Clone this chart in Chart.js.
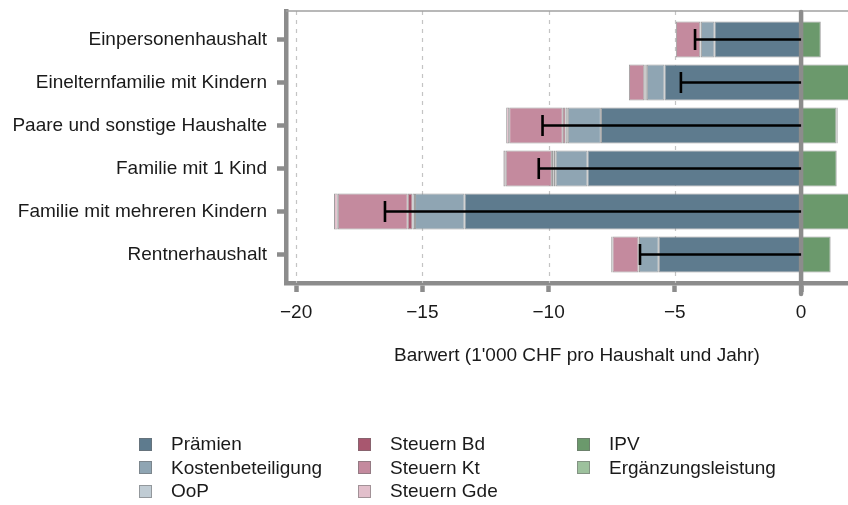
<!DOCTYPE html>
<html><head><meta charset="utf-8">
<script src="https://cdn.jsdelivr.net/npm/chart.js@4"></script>
<style>
html,body{margin:0;padding:0;background:#fff;overflow:hidden;width:848px;height:505px;}
#wrap{position:relative;width:868px;height:505px;}
canvas{position:absolute;left:0;top:0;}
.lg{position:absolute;display:flex;align-items:center;font-family:'Liberation Sans',Arial,sans-serif;font-size:19px;color:#1a1a1a;white-space:nowrap;height:22px;}
.lg .box{display:inline-block;width:13px;height:13px;box-sizing:border-box;border:1px solid rgba(110,110,110,0.55);margin-right:19px;}
</style></head>
<body><div id="wrap"><canvas id="c" width="868" height="505"></canvas></div>
<script>
// ---- data (1'000 CHF pro Haushalt und Jahr) ----
const categories = ["Einpersonenhaushalt", "Einelternfamilie mit Kindern", "Paare und sonstige Haushalte", "Familie mit 1 Kind", "Familie mit mehreren Kindern", "Rentnerhaushalt"];
const seriesNames = ["Prämien", "Kostenbeteiligung", "OoP", "Steuern Bd", "Steuern Kt", "Steuern Gde", "IPV", "Ergänzungsleistung"];
const praemien          = [-3.43, -5.41, -7.93, -8.46, -13.33, -5.64];
const kostenbeteiligung = [-0.54, -0.70, -1.31, -1.26, -1.96, -0.78];
const oop               = [0, -0.06, -0.09, -0.08, -0.10, 0];
const steuernBd         = [-0.02, -0.04, -0.11, -0.07, -0.19, -0.02];
const steuernKt         = [-0.97, -0.61, -2.12, -1.83, -2.77, -1.03];
const steuernGde        = [0, 0, -0.12, -0.09, -0.15, -0.05];
const ipv               = [0.78, 2.06, 1.40, 1.41, 2.02, 1.17];
const ergaenzung        = [0, 0, 0.05, 0, 0, 0];
const netto             = [-4.20, -4.76, -10.24, -10.39, -16.48, -6.38];
const xTickValues = [-20, -15, -10, -5, 0];
const gridValues = [-20, -15, -10, -5];
const xTitle = "Barwert (1'000 CHF pro Haushalt und Jahr)";

// ---- styles ----
const seriesColors = ["#5e7b8e", "#8fa5b3", "#c0ccd4", "#a8576f", "#c48a9e", "#e2bfcb", "#6b996c", "#9dc19d"];
const FONT = "'Liberation Sans', Arial, sans-serif";
const AXIS = "#8c8c8c";

const seriesValues = [praemien, kostenbeteiligung, oop, steuernBd, steuernKt, steuernGde, ipv, ergaenzung];
const datasets = seriesNames.map((name, s) => ({
  label: name,
  data: seriesValues[s].map((v, i) => ({x: v, y: i})),
  backgroundColor: seriesColors[s],
  borderColor: 'rgba(125,125,125,0.75)',
  borderWidth: 1,
  borderSkipped: false,
  stack: 'all',
  barPercentage: 0.84,
  categoryPercentage: 1
}));

const overlay = {
  id: 'overlay',
  beforeDatasetsDraw(chart) {
    const {ctx, chartArea: a, scales: {x}} = chart;
    ctx.save();
    ctx.strokeStyle = '#c4c4c4'; ctx.lineWidth = 1.2; ctx.setLineDash([4, 5]);
    gridValues.forEach(v => {
      const px = Math.round(x.getPixelForValue(v)) + 0.5;
      ctx.beginPath(); ctx.moveTo(px, a.top); ctx.lineTo(px, a.bottom); ctx.stroke();
    });
    ctx.setLineDash([]);
    ctx.strokeStyle = '#a0a0a0'; ctx.lineWidth = 1.6;
    ctx.beginPath(); ctx.moveTo(a.left, a.top); ctx.lineTo(a.right, a.top); ctx.stroke();
    ctx.restore();
  },
  afterDatasetsDraw(chart) {
    const {ctx, chartArea: a, scales: {x, y}} = chart;
    ctx.save();
    const x0 = x.getPixelForValue(0);
    ctx.strokeStyle = AXIS; ctx.lineWidth = 4.5; ctx.lineCap = 'round';
    ctx.beginPath(); ctx.moveTo(x0, a.top + 1); ctx.lineTo(x0, a.bottom + 11); ctx.stroke();
    ctx.lineCap = 'butt';
    ctx.strokeStyle = '#000'; ctx.lineWidth = 2.6;
    netto.forEach((v, i) => {
      const py = y.getPixelForValue(i);
      const px = x.getPixelForValue(v);
      ctx.beginPath(); ctx.moveTo(x0, py); ctx.lineTo(px, py); ctx.stroke();
      ctx.beginPath(); ctx.moveTo(px, py - 10.5); ctx.lineTo(px, py + 10.5); ctx.stroke();
    });
    ctx.restore();
  }
};

new Chart(document.getElementById('c'), {
  type: 'bar',
  data: {datasets},
  plugins: [overlay],
  options: {
    indexAxis: 'y',
    responsive: false,
    animation: false,
    devicePixelRatio: 1,
    layout: {padding: {top: 11, left: 0, right: 0, bottom: 140}},
    plugins: {legend: {display: false}, tooltip: {enabled: false}},
    scales: {
      x: {
        type: 'linear', stacked: true, min: -20.4, max: 2.65, offset: false,
        afterBuildTicks: s => { s.ticks = xTickValues.map(v => ({value: v})); },
        afterFit: s => { s.height = 82; s.paddingLeft = 0; s.paddingRight = 0; },
        ticks: {
          callback: v => v < 0 ? '\u2212' + Math.abs(v) : String(v),
          font: {family: FONT, size: 19}, color: '#1a1a1a', padding: 9, maxRotation: 0, autoSkip: false
        },
        grid: {offset: false, drawOnChartArea: false, drawTicks: true, tickLength: 9, tickWidth: 4.5, tickColor: AXIS},
        border: {display: true, color: AXIS, width: 4.5},
        title: {display: true, text: xTitle, font: {family: FONT, size: 19}, color: '#1a1a1a', padding: {top: 0, bottom: -2}}
      },
      y: {
        type: 'linear', reverse: true, min: -0.663, max: 5.663, offset: false,
        afterBuildTicks: s => { s.ticks = categories.map((c, i) => ({value: i})); },
        afterFit: s => { s.width = 286; s.paddingTop = 0; s.paddingBottom = 0; },
        ticks: {
          callback: v => categories[v],
          font: {family: FONT, size: 19}, color: '#1a1a1a', padding: 10, autoSkip: false
        },
        grid: {offset: false, drawOnChartArea: false, drawTicks: true, tickLength: 9, tickWidth: 4.5, tickColor: AXIS},
        border: {display: true, color: AXIS, width: 4.5}
      }
    }
  }
});

// ---- legend (column-major, 3 rows) ----
const legendCols = [139, 358, 577];
const legendRows = [444, 467.5, 491];
const wrap = document.getElementById('wrap');
seriesNames.forEach((name, i) => {
  const c = Math.floor(i / 3), r = i % 3;
  const d = document.createElement('div');
  d.className = 'lg';
  d.style.left = legendCols[c] + 'px';
  d.style.top = (legendRows[r] - 11) + 'px';
  const b = document.createElement('span');
  b.className = 'box'; b.style.background = seriesColors[i];
  d.appendChild(b);
  d.appendChild(document.createTextNode(name));
  wrap.appendChild(d);
});
</script>
</body></html>
